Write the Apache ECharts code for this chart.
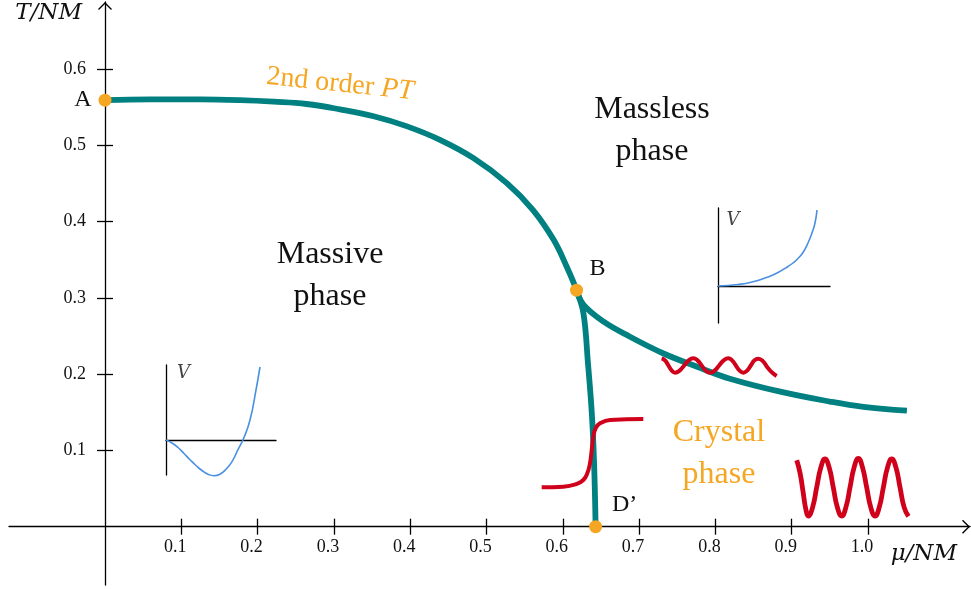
<!DOCTYPE html>
<html><head><meta charset="utf-8">
<script src="https://cdn.jsdelivr.net/npm/echarts@6/dist/echarts.min.js"></script>
<style>html,body{margin:0;padding:0;background:#fff}#c{width:971px;height:589px}</style>
</head><body><div id="c"></div>
<script>
// ---- tick values / labels ----
const muTicks = [0.1, 0.2, 0.3, 0.4, 0.5, 0.6, 0.7, 0.8, 0.9, 1.0];
const muTickLabels = ['0.1', '0.2', '0.3', '0.4', '0.5', '0.6', '0.7', '0.8', '0.9', '1.0'];
const tTicks = [0.1, 0.2, 0.3, 0.4, 0.5, 0.6];
const tTickLabels = ['0.1', '0.2', '0.3', '0.4', '0.5', '0.6'];

// ---- phase boundary A -> B -> D' ----
const boundaryMu = [0, 0.059, 0.125, 0.177, 0.221, 0.264, 0.308, 0.352, 0.395, 0.439, 0.483, 0.527, 0.561, 0.588, 0.605, 0.618, 0.627, 0.633, 0.638, 0.641, 0.643];
const boundaryT  = [0.559, 0.560, 0.560, 0.559, 0.557, 0.554, 0.547, 0.538, 0.525, 0.507, 0.483, 0.450, 0.415, 0.376, 0.341, 0.310, 0.280, 0.214, 0.149, 0.083, 0];

// ---- crystal boundary from B to the right ----
const crystalMu = [0.618, 0.627, 0.653, 0.688, 0.732, 0.775, 0.819, 0.885, 0.950, 0.994, 1.051];
const crystalT  = [0.310, 0.291, 0.269, 0.249, 0.227, 0.210, 0.194, 0.177, 0.164, 0.157, 0.152];

// ---- special points ----
const pointNames = ['A', 'B', 'D’'];
const pointMu = [0, 0.618, 0.643];
const pointT  = [0.559, 0.310, 0];

// ---- red sketches ----
const kinkMu = [0.5723, 0.6007, 0.6182, 0.6269, 0.6321, 0.6356, 0.6379, 0.6400, 0.6431, 0.6488, 0.6619, 0.7055];
const kinkT  = [0.0516, 0.0524, 0.0560, 0.0612, 0.0700, 0.0831, 0.1006, 0.1180, 0.1290, 0.1355, 0.1399, 0.1412];
const smallWaveMu = [0.7296, 0.7340, 0.7384, 0.7428, 0.7471, 0.7531, 0.7591, 0.7650, 0.7710, 0.7765, 0.7820, 0.7874, 0.7929, 0.7989, 0.8049, 0.8109, 0.8169, 0.8218, 0.8268, 0.8317, 0.8366, 0.8415, 0.8464, 0.8513, 0.8562, 0.8622, 0.8683, 0.8743, 0.8803];
const smallWaveT  = [0.2207, 0.2180, 0.2113, 0.2046, 0.2018, 0.2046, 0.2113, 0.2180, 0.2207, 0.2180, 0.2113, 0.2046, 0.2018, 0.2046, 0.2113, 0.2180, 0.2207, 0.2180, 0.2113, 0.2046, 0.2018, 0.2046, 0.2113, 0.2180, 0.2200, 0.2170, 0.2086, 0.2020, 0.1975];
const bigWaveMu = [0.9066, 0.9110, 0.9150, 0.9185, 0.9218, 0.9273, 0.9327, 0.9382, 0.9436, 0.9491, 0.9545, 0.9600, 0.9655, 0.9709, 0.9764, 0.9818, 0.9873, 0.9928, 0.9983, 1.0037, 1.0092, 1.0146, 1.0201, 1.0256, 1.0311, 1.0366, 1.0420, 1.0475, 1.0530];
const bigWaveT  = [0.0870, 0.0700, 0.0450, 0.0230, 0.0140, 0.0249, 0.0513, 0.0777, 0.0887, 0.0777, 0.0513, 0.0249, 0.0140, 0.0249, 0.0513, 0.0777, 0.0895, 0.0777, 0.0513, 0.0249, 0.0140, 0.0249, 0.0513, 0.0777, 0.0887, 0.0777, 0.0513, 0.0249, 0.0135];

// ---- inset potentials (inset units) ----
const massivePhi = [0, 6, 12, 18, 24, 30, 36, 42, 48, 54, 60, 66, 72, 78, 84, 90, 94];
const massiveV   = [0, -3, -7.5, -13.5, -19.7, -25.5, -30.5, -34.2, -35.7, -34.2, -29.3, -21.6, -9.7, 2.5, 20, 50, 73];
const masslessPhi = [0, 10, 20, 30, 40, 50, 60, 70, 75, 80, 85, 90, 94, 97, 99];
const masslessV   = [0, 0.5, 1.5, 3, 5.5, 9, 13.5, 19.5, 23, 27.5, 33.5, 43, 53, 63, 76];

// ---- annotations ----
const phaseTexts = ['Massive\nphase', 'Massless\nphase', 'Crystal\nphase', '2nd order {i|PT}'];
const phaseMu = [0.2949, 0.7169, 0.8047, 0.308];
const phaseT  = [0.3286, 0.5186, 0.0953, 0.580];

const zip = (a, b) => a.map((v, i) => [v, b[i]]);
const lookup = (vals, labels) => v => labels[vals.findIndex(t => Math.abs(t - v) < 1e-6)] || '';

const TEAL = '#008080', ORANGE = '#f5a623', RED = '#d0021b', BLUE = '#4a90e2', INK = '#111';
const SERIF = '"Liberation Serif", "DejaVu Serif", serif';
const MATH = '"DejaVu Serif", "Liberation Serif", serif';
const ARROW = 'path://M10,0 L20,10 L18.6,11.4 L10,2.8 L1.4,11.4 L0,10 Z';

// axis extents (layout: 763 px per unit, origin at pixel 105, 526.7)
const X_MIN = -0.12582, X_MAX = 1.13368, Y_MIN = -0.07641, Y_MAX = 0.68768;
const X_AXIS_SHIFT = -58.3, Y_AXIS_SHIFT = -96;

const mainAxisLine = {
  onZero: false, symbol: ['none', ARROW], symbolSize: [14, 8], symbolOffset: [0, -4],
  lineStyle: { color: '#000', width: 1.3 }
};
const tickStyle = { color: '#000', width: 1.3 };
const insetLine = { onZero: true, lineStyle: { color: '#000', width: 1.3 } };
const off = { show: false };
const gridBase = { containLabel: false, outerBoundsMode: 'none' };

const chart = echarts.init(document.getElementById('c'), null, { renderer: 'canvas' });
chart.setOption({
  animation: false,
  backgroundColor: '#fff',
  grid: [
    Object.assign({ left: 9, right: 1, top: 2, bottom: 4 }, gridBase),
    Object.assign({ left: 9, right: 1, top: 2, bottom: 4 }, gridBase),
    Object.assign({ left: 166, top: 365, width: 110, height: 110 }, gridBase),
    Object.assign({ left: 718, top: 208, width: 112, height: 115 }, gridBase)
  ],
  xAxis: [
    { gridIndex: 0, type: 'value', position: 'bottom', offset: X_AXIS_SHIFT, min: X_MIN, max: X_MAX, axisLine: mainAxisLine,
      axisTick: { show: true, inside: false, length: 8, customValues: muTicks, lineStyle: tickStyle },
      axisLabel: { show: true, customValues: muTicks, margin: 12, padding: [0, 12, 0, 0],
        formatter: lookup(muTicks, muTickLabels), fontFamily: SERIF, fontSize: 18, color: INK },
      splitLine: off,
      name: 'μ/NM', nameLocation: 'end', nameGap: -13,
      nameTextStyle: { fontFamily: MATH, fontStyle: 'italic', fontSize: 23, color: INK,
        align: 'right', verticalAlign: 'top', padding: [16, 0, 0, 0] } },
    { gridIndex: 1, type: 'value', position: 'bottom', offset: X_AXIS_SHIFT, min: X_MIN, max: X_MAX,
      axisLine: { show: false, onZero: false },
      axisTick: { show: true, inside: true, length: 8, customValues: muTicks, lineStyle: tickStyle },
      axisLabel: off, splitLine: off },
    { gridIndex: 2, type: 'value', min: 0, max: 110, axisLine: insetLine, axisTick: off, axisLabel: off, splitLine: off },
    { gridIndex: 3, type: 'value', min: 0, max: 112, axisLine: insetLine, axisTick: off, axisLabel: off, splitLine: off }
  ],
  yAxis: [
    { gridIndex: 0, type: 'value', position: 'left', offset: Y_AXIS_SHIFT, min: Y_MIN, max: Y_MAX, axisLine: mainAxisLine,
      axisTick: { show: true, inside: false, length: 8, customValues: tTicks, lineStyle: tickStyle },
      axisLabel: { show: true, customValues: tTicks, margin: 19,
        formatter: lookup(tTicks, tTickLabels), fontFamily: SERIF, fontSize: 18, color: INK },
      splitLine: off,
      name: 'T/NM', nameLocation: 'end', nameGap: -11,
      nameTextStyle: { fontFamily: MATH, fontStyle: 'italic', fontSize: 23, color: INK,
        align: 'right', verticalAlign: 'middle', padding: [0, 23, 0, 0] } },
    { gridIndex: 1, type: 'value', position: 'left', offset: Y_AXIS_SHIFT, min: Y_MIN, max: Y_MAX,
      axisLine: { show: false, onZero: false },
      axisTick: { show: true, inside: true, length: 8, customValues: tTicks, lineStyle: tickStyle },
      axisLabel: off, splitLine: off },
    { gridIndex: 2, type: 'value', min: -35, max: 75, axisLine: insetLine, axisTick: off, axisLabel: off, splitLine: off },
    { gridIndex: 3, type: 'value', min: -37, max: 78, axisLine: insetLine, axisTick: off, axisLabel: off, splitLine: off }
  ],
  series: [
    { name: 'Phase boundary', type: 'line', xAxisIndex: 0, yAxisIndex: 0, data: zip(boundaryMu, boundaryT),
      smooth: 0.4, showSymbol: false, silent: true, z: 3,
      lineStyle: { color: TEAL, width: 5.8, cap: 'butt', join: 'round' } },
    { name: 'Crystal boundary', type: 'line', xAxisIndex: 0, yAxisIndex: 0, data: zip(crystalMu, crystalT),
      smooth: 0.4, showSymbol: false, silent: true, z: 3,
      lineStyle: { color: TEAL, width: 5.8, cap: 'butt', join: 'round' } },
    { name: 'Kink', type: 'line', xAxisIndex: 0, yAxisIndex: 0, data: zip(kinkMu, kinkT),
      smooth: 0.5, showSymbol: false, silent: true, z: 4,
      lineStyle: { color: RED, width: 4, cap: 'butt' } },
    { name: 'Small wave', type: 'line', xAxisIndex: 0, yAxisIndex: 0, data: zip(smallWaveMu, smallWaveT),
      smooth: 0.5, showSymbol: false, silent: true, z: 4,
      lineStyle: { color: RED, width: 4, cap: 'butt' } },
    { name: 'Big wave', type: 'line', xAxisIndex: 0, yAxisIndex: 0, data: zip(bigWaveMu, bigWaveT),
      smooth: 0.5, showSymbol: false, silent: true, z: 4,
      lineStyle: { color: RED, width: 4.8, cap: 'butt' } },
    { name: 'Points', type: 'scatter', xAxisIndex: 0, yAxisIndex: 0, silent: true, z: 5,
      symbolSize: 13, itemStyle: { color: ORANGE, opacity: 1 },
      data: pointNames.map((n, i) => ({
        name: n, value: [pointMu[i], pointT[i]],
        label: { offset: [[-22, 0], [21, -21], [29, -22]][i] }
      })),
      label: { show: true, position: 'inside', formatter: '{b}', fontFamily: SERIF, fontSize: 24, color: INK } },
    { name: 'Phase labels', type: 'scatter', xAxisIndex: 0, yAxisIndex: 0, silent: true, z: 6,
      symbolSize: 1, itemStyle: { color: 'rgba(0,0,0,0)', opacity: 1 },
      data: phaseTexts.map((t, i) => ({
        name: t, value: [phaseMu[i], phaseT[i]],
        label: i === 3 ? { color: ORANGE, fontSize: 28, rotate: -6, lineHeight: 32 } :
               (i === 2 ? { color: ORANGE } : {})
      })),
      label: { show: true, position: 'inside', formatter: '{b}', fontFamily: SERIF, fontSize: 32,
        lineHeight: 42, color: INK, align: 'center', verticalAlign: 'middle',
        rich: { i: { fontFamily: SERIF, fontStyle: 'italic', fontSize: 28, color: ORANGE } } } },
    { name: 'Massive potential', type: 'line', xAxisIndex: 2, yAxisIndex: 2, data: zip(massivePhi, massiveV),
      smooth: 0.5, showSymbol: false, silent: true, clip: false, z: 3,
      lineStyle: { color: BLUE, width: 1.6 } },
    { name: 'Massless potential', type: 'line', xAxisIndex: 3, yAxisIndex: 3, data: zip(masslessPhi, masslessV),
      smooth: 0.5, showSymbol: false, silent: true, clip: false, z: 3,
      lineStyle: { color: BLUE, width: 1.6 } },
    { name: 'V label 1', type: 'scatter', xAxisIndex: 2, yAxisIndex: 2, silent: true, symbolSize: 1,
      itemStyle: { color: 'rgba(0,0,0,0)' }, data: [{ name: 'V', value: [17.5, 66.7] }],
      label: { show: true, position: 'inside', formatter: '{b}', fontFamily: MATH, fontStyle: 'italic', fontSize: 18, color: INK } },
    { name: 'V label 2', type: 'scatter', xAxisIndex: 3, yAxisIndex: 3, silent: true, symbolSize: 1,
      itemStyle: { color: 'rgba(0,0,0,0)' }, data: [{ name: 'V', value: [15, 66] }],
      label: { show: true, position: 'inside', formatter: '{b}', fontFamily: MATH, fontStyle: 'italic', fontSize: 18, color: INK } }
  ]
});
</script>
</body></html>
